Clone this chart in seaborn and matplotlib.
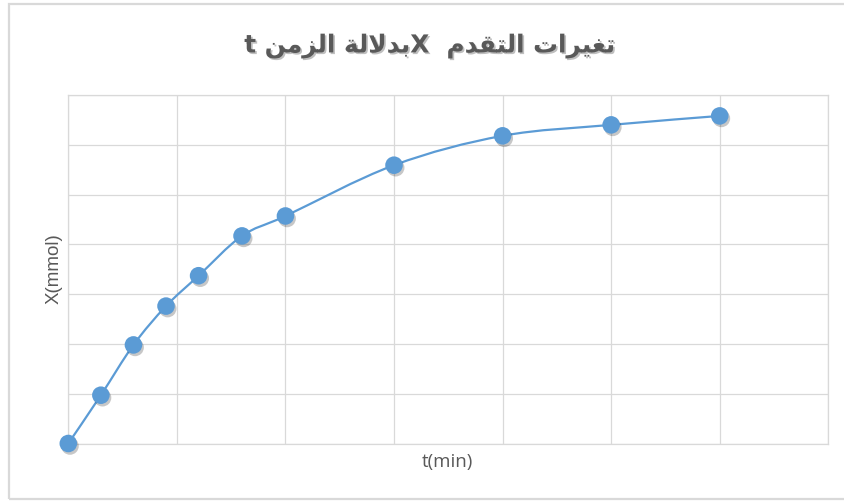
import numpy as np
import matplotlib
matplotlib.use("Agg")
import matplotlib.pyplot as plt
import seaborn as sns
from matplotlib.path import Path
from matplotlib.patches import PathPatch
import matplotlib.patheffects as pe

# ---- data ----
t_min = [0, 3, 6, 9, 12, 16, 20, 30, 40, 50, 60]
x_mmol = [0, 0.97, 1.98, 2.76, 3.37, 4.17, 4.57, 5.59, 6.18, 6.40, 6.58]
x_ticks = [0, 10, 20, 30, 40, 50, 60, 70]
y_ticks = [0, 1, 2, 3, 4, 5, 6, 7]

# Title in visual order with Arabic presentation forms (matplotlib does no shaping/bidi)
w_zaman = "\uFEE6\uFEE3\uFEB0\uFEDF\uFE8D"          # الزمن
w_bidalala = "\uFE94\uFEDF\uFEFB\uFEAA\uFE91"       # بدلالة
w_taqaddum = "\uFEE1\uFEAA\uFED8\uFE98\uFEDF\uFE8D"  # التقدم
w_taghayurat = "\uFE95\uFE8D\uFEAE\uFEF4\uFED0\uFE97"  # تغيرات
title_text = "t " + w_zaman + " " + w_bidalala + "X  " + w_taqaddum + " " + w_taghayurat
xlabel_text = "t(min)"
ylabel_text = "X(mmol)"

sns.set_theme(style="white")
plt.rcParams['font.family'] = ['DejaVu Sans']

BLUE = "#5B9BD5"
GRID = "#D9D9D9"
TXT = "#595959"

fig = plt.figure(figsize=(8.45, 5.01), dpi=100)
ax = fig.add_axes([68.3 / 845, (501 - 443.5) / 501, 760 / 845, (443.5 - 95) / 501])

# outer chart border
fig.patches.append(plt.Rectangle((9 / 845, 2 / 501), 1.2, 495 / 501,
                                 transform=fig.transFigure, fill=False,
                                 edgecolor=GRID, linewidth=1.6, zorder=0))

ax.set_xlim(x_ticks[0], x_ticks[-1])
ax.set_ylim(y_ticks[0], y_ticks[-1])
ax.set_xticks(x_ticks)
ax.set_yticks(y_ticks)
ax.tick_params(length=0, labelbottom=False, labelleft=False)
ax.grid(True, color=GRID, linewidth=0.9)
for s in ax.spines.values():
    s.set_color(GRID)
    s.set_linewidth(0.9)

# smoothed connecting line (Catmull-Rom -> cubic Bezier) built from the data
P = np.column_stack([t_min, x_mmol]).astype(float)
n = len(P)
verts = [P[0]]
codes = [Path.MOVETO]
for i in range(n - 1):
    p0 = P[i - 1] if i > 0 else P[i]
    p1 = P[i]
    p2 = P[i + 1]
    p3 = P[i + 2] if i + 2 < n else P[i + 1]
    c1 = p1 + (p2 - p0) / 6.0
    c2 = p2 - (p3 - p1) / 6.0
    verts += [c1, c2, p2]
    codes += [Path.CURVE4] * 3
curve = PathPatch(Path(verts, codes), fill=False, edgecolor=BLUE, linewidth=1.6,
                  transform=ax.transData, zorder=3, clip_on=False)
ax.add_patch(curve)

df = {"t": t_min, "x": x_mmol}
sns.scatterplot(x="t", y="x", data=df, ax=ax, s=160, color=BLUE,
                edgecolor="none", zorder=4, clip_on=False, legend=False)
for coll in ax.collections:
    coll.set_path_effects([pe.SimplePatchShadow(offset=(1.2, -1.8), shadow_rgbFace="black", alpha=0.22),
                           pe.Normal()])
ax.set_xlabel("")
ax.set_ylabel("")

fig.text(430 / 845, 1 - 46 / 501, title_text, ha="center", va="center",
         fontsize=17.8, fontweight="bold", color=TXT, family=['DejaVu Sans'],
         path_effects=[pe.withSimplePatchShadow(offset=(1.2, -1.2), shadow_rgbFace="black", alpha=0.25)])
fig.text(447 / 845, 1 - 462 / 501, xlabel_text, ha="center", va="center",
         fontsize=13.5, color=TXT, family=['Open Sans'])
fig.text(54 / 845, 1 - 269 / 501, ylabel_text, ha="center", va="center", rotation=90,
         fontsize=13.5, color=TXT, family=['Liberation Sans'])

fig.savefig("out.png", dpi=100, facecolor="white")
